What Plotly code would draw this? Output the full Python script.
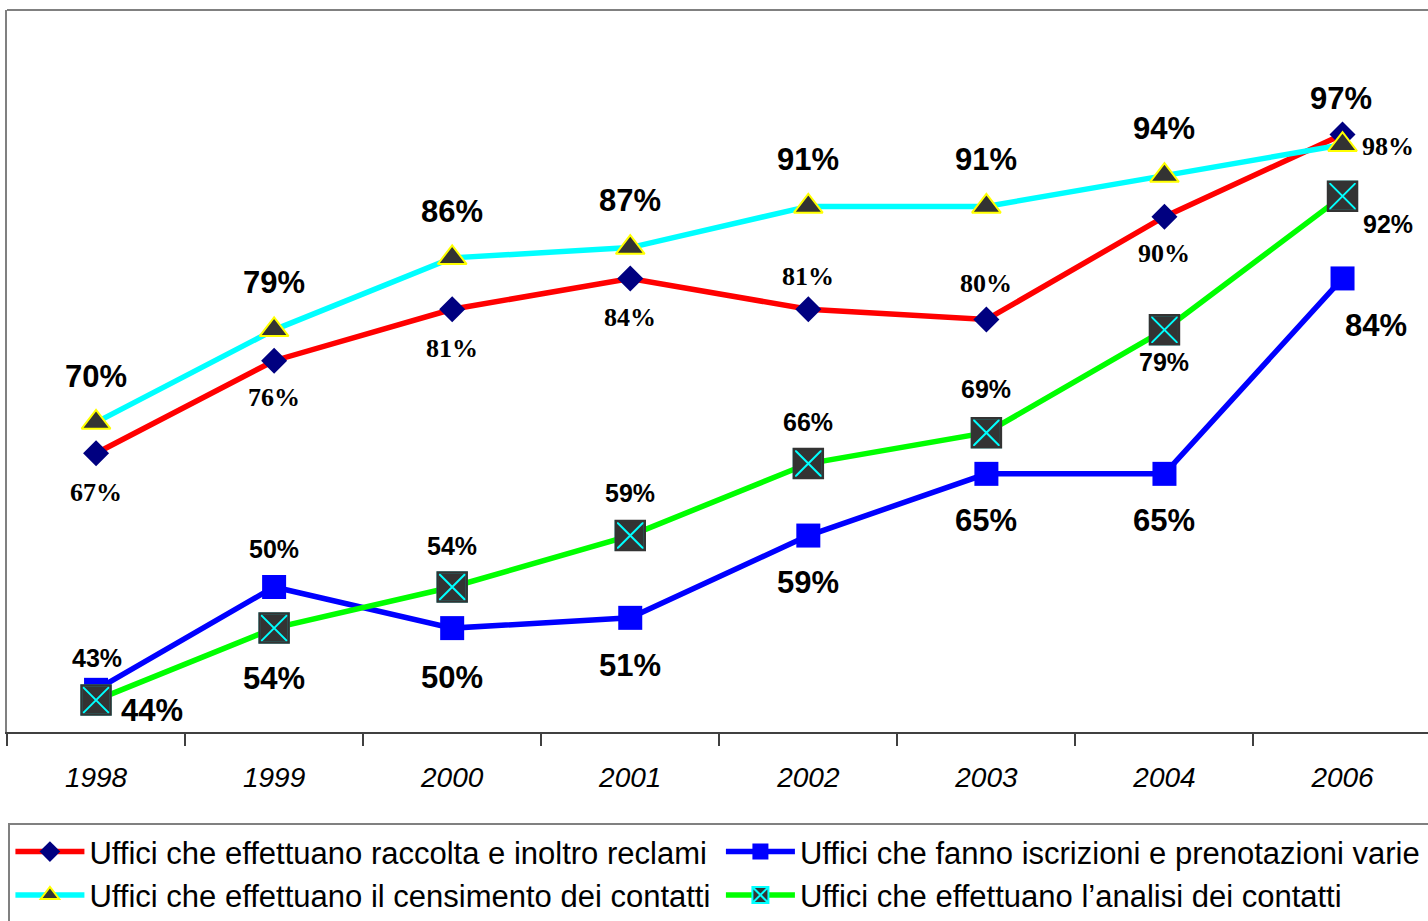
import plotly.graph_objects as go

years = ["1998", "1999", "2000", "2001", "2002", "2003", "2004", "2006"]

reclami = [67, 76, 81, 84, 81, 80, 90, 98]
iscrizioni = [44, 54, 50, 51, 59, 65, 65, 84]
censimento = [70, 79, 86, 87, 91, 91, 94, 97]
analisi = [43, 50, 54, 59, 66, 69, 79, 92]

names = [
    "Uffici che effettuano raccolta e inoltro reclami",
    "Uffici che fanno iscrizioni e prenotazioni varie",
    "Uffici che effettuano il censimento dei contatti",
    "Uffici che effettuano l\u2019analisi dei contatti",
]

# label offsets (pixels) relative to each point
off_reclami = [(0, -39), (0, -37), (0, -39), (0, -39), (0, 33), (0, 36), (0, -37), (45, -12)]
off_iscr = [(56, -21), (0, -92), (0, -49), (0, -48), (0, -47), (0, -47), (0, -47), (33, -47)]
off_cens = [(0, 46), (0, 47), (0, 46), (0, 47), (0, 47), (0, 47), (0, 47), (-2, 46)]
off_anal = [(1, 42), (0, 79), (0, 41), (0, 43), (0, 42), (0, 44), (0, -32), (45, -28)]

ARIAL = "Arial, Liberation Sans, sans-serif"
TIMES = "Times New Roman, Liberation Serif, serif"

fig = go.Figure()
fig.add_trace(go.Scatter(
    x=years, y=reclami, name=names[0], mode="lines+markers",
    line=dict(color="#FF0000", width=5.5),
    marker=dict(symbol="diamond", size=20, color="#000080", line=dict(width=0)),
))
fig.add_trace(go.Scatter(
    x=years, y=iscrizioni, name=names[1], mode="lines+markers",
    line=dict(color="#0000FF", width=5.5),
    marker=dict(symbol="square", size=24, color="#0000FF", line=dict(width=0)),
))
fig.add_trace(go.Scatter(
    x=years, y=censimento, name=names[2], mode="lines+markers",
    line=dict(color="#00FFFF", width=5.5),
    marker=dict(symbol="triangle-up", size=25, color="#333333",
                line=dict(width=2, color="#FFFF00")),
))
fig.add_trace(go.Scatter(
    x=years, y=analisi, name=names[3], mode="lines+markers",
    line=dict(color="#00FF00", width=5.5),
    marker=dict(symbol="square-x", size=29, color="#333333",
                line=dict(width=2, color="#00FFFF")),
))
fig.add_trace(go.Scatter(
    x=years, y=analisi, mode="markers", showlegend=False, hoverinfo="skip",
    marker=dict(symbol="square-open", size=29, color="#333333",
                line=dict(width=2.5, color="#333333")),
))

TIMES_FONT = dict(family=TIMES, size=26, color="black", weight="bold")
BIG_FONT = dict(family=ARIAL, size=31, color="black", weight="bold")
SMALL_FONT = dict(family=ARIAL, size=25, color="black", weight="bold")

def add_labels(values, offsets, font):
    for i, (v, (dx, dy)) in enumerate(zip(values, offsets)):
        fig.add_annotation(
            x=i, y=v, xref="x", yref="y", text=f"{v}%", showarrow=False,
            xanchor="center", yanchor="middle", xshift=dx, yshift=dy, font=font,
        )

add_labels(reclami, off_reclami, TIMES_FONT)
add_labels(iscrizioni, off_iscr, BIG_FONT)
add_labels(censimento, off_cens, BIG_FONT)
add_labels(analisi, off_anal, SMALL_FONT)

fig.update_layout(
    width=1428, height=921,
    margin=dict(l=7, r=0, t=10, b=189, autoexpand=False),
    paper_bgcolor="white", plot_bgcolor="white",
    shapes=[dict(type="line", xref="paper", yref="paper", x0=0, x1=1, y0=1, y1=1,
                 line=dict(color="#808080", width=2))],
    legend=dict(
        orientation="h", x=0.001, xanchor="left", y=-0.126, yanchor="top",
        entrywidth=0.5, entrywidthmode="fraction",
        bordercolor="#808080", borderwidth=2,
        font=dict(family=ARIAL, size=31, color="black"),
        itemwidth=69,
    ),
    showlegend=True,
)
fig.update_xaxes(
    type="category", range=[-0.5, 7.48], automargin=False,
    showline=True, linecolor="#404040", linewidth=2,
    ticks="outside", tickson="boundaries", ticklen=12, tickwidth=2, tickcolor="#404040",
    tickfont=dict(family=ARIAL, size=28, color="black", style="italic"),
    ticklabelstandoff=19, showgrid=False, zeroline=False,
)
fig.update_yaxes(
    range=[39.9, 110.1], automargin=False,
    showline=True, linecolor="#808080", linewidth=2,
    showticklabels=False, ticks="", showgrid=False, zeroline=False,
)

fig.write_html("out.html", config={"displayModeBar": False},
               post_script="document.body.style.margin='0';")
